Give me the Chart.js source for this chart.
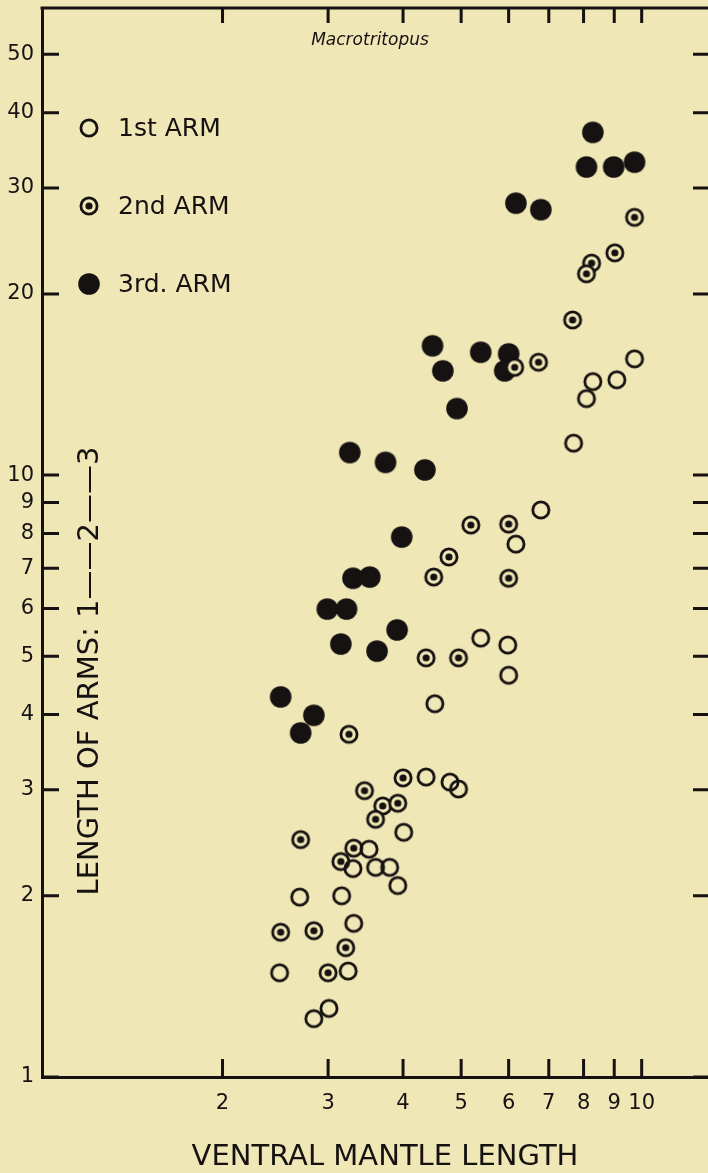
<!DOCTYPE html>
<html>
<head>
<meta charset="utf-8">
<script src="https://cdn.jsdelivr.net/npm/chart.js@4.4.1/dist/chart.umd.min.js"></script>
<style>
  html, body { margin: 0; padding: 0; background: #efe7b5; }
  canvas { display: block; }
</style>
</head>
<body>
<canvas id="chart" width="708" height="1173"></canvas>
<script>
"use strict";

// ventral mantle length (x) and arm length (y), one pair of arrays per arm
const arm1Mantle = [9.73, 9.09, 8.29, 8.09, 7.70, 6.79, 6.17, 5.39, 5.98, 6.00, 4.52, 4.37, 4.79, 4.95,
  4.01, 3.51, 3.30, 3.60, 3.80, 3.92, 2.69, 3.16, 3.31, 2.49, 3.24, 3.01, 2.84];
const arm1Length = [15.6, 14.4, 14.3, 13.4, 11.3, 8.75, 7.68, 5.36, 5.22, 4.65, 4.17, 3.15, 3.09, 3.01,
  2.55, 2.39, 2.22, 2.23, 2.23, 2.08, 1.99, 2.00, 1.80, 1.49, 1.50, 1.30, 1.25];

const arm2Mantle = [9.73, 9.02, 8.25, 8.09, 7.67, 6.73, 6.14, 5.19, 6.00, 4.77, 4.50, 6.00, 4.37, 4.95,
  3.25, 4.00, 3.45, 3.70, 3.92, 3.60, 2.70, 3.31, 3.15, 2.50, 2.84, 3.21, 3.00];
const arm2Length = [26.8, 23.4, 22.5, 21.6, 18.1, 15.4, 15.1, 8.26, 8.29, 7.31, 6.77, 6.74, 4.97, 4.97,
  3.71, 3.14, 2.99, 2.82, 2.85, 2.68, 2.48, 2.40, 2.28, 1.74, 1.75, 1.64, 1.49];

const arm3Mantle = [8.29, 8.09, 8.98, 9.73, 6.17, 6.79, 4.48, 5.39, 6.00, 5.91, 4.66, 4.92, 3.26, 3.74,
  4.35, 3.98, 3.30, 3.52, 2.99, 3.22, 3.91, 3.15, 3.62, 2.50, 2.84, 2.70];
const arm3Length = [37.1, 32.5, 32.5, 33.1, 28.3, 27.6, 16.4, 16.0, 15.9, 14.9, 14.9, 12.9, 10.9, 10.5,
  10.2, 7.89, 6.74, 6.77, 5.99, 5.99, 5.53, 5.24, 5.10, 4.28, 3.99, 3.73];

const seriesNames = ['1st ARM', '2nd ARM', '3rd. ARM'];
const xTickValues = [2, 3, 4, 5, 6, 7, 8, 9, 10];
const yTickValues = [1, 2, 3, 4, 5, 6, 7, 8, 9, 10, 20, 30, 40, 50];

const INK = '#161212';
const PAPER = '#efe7b5';
const FONT = 'DejaVu Sans';

function marker(kind) {
  const c = document.createElement('canvas');
  c.width = 24; c.height = 24;
  const g = c.getContext('2d');
  g.fillStyle = INK; g.strokeStyle = INK;
  g.beginPath();
  if (kind === 'filled') {
    g.arc(12, 12, 10.8, 0, Math.PI * 2);
    g.fill();
  } else {
    g.arc(12, 12, 8.1, 0, Math.PI * 2);
    if (kind === 'dot') { g.fillStyle = PAPER; g.fill(); }
    g.lineWidth = 2.8;
    g.stroke();
    if (kind === 'dot') {
      g.beginPath();
      g.fillStyle = INK;
      g.arc(12, 12, 3.6, 0, Math.PI * 2);
      g.fill();
    }
  }
  return c;
}
const markers = [marker('open'), marker('dot'), marker('filled')];

function pairs(xs, ys) {
  return xs.map(function (x, i) { return { x: x, y: ys[i] }; });
}

const frame = {
  id: 'frame',
  afterDraw(chart) {
    const ctx = chart.ctx;
    const a = chart.chartArea;
    const x = chart.scales.x, y = chart.scales.y;
    ctx.save();
    ctx.strokeStyle = INK;
    ctx.lineWidth = 3;
    ctx.beginPath();
    ctx.moveTo(a.left - 1.5, a.top);
    ctx.lineTo(a.right, a.top);
    yTickValues.forEach(function (v) {
      const py = y.getPixelForValue(v);
      ctx.moveTo(a.left, py); ctx.lineTo(a.left + 17, py);
      ctx.moveTo(a.right - 15, py); ctx.lineTo(a.right, py);
    });
    xTickValues.forEach(function (v) {
      const px = x.getPixelForValue(v);
      ctx.moveTo(px, a.bottom); ctx.lineTo(px, a.bottom - 18);
      ctx.moveTo(px, a.top); ctx.lineTo(px, a.top + 15);
    });
    ctx.stroke();

    ctx.fillStyle = INK;
    // species name
    ctx.font = 'italic 17px ' + FONT;
    ctx.textAlign = 'center';
    ctx.textBaseline = 'middle';
    ctx.fillText('Macrotritopus', 370, 41);

    // axis title under the x labels
    ctx.font = '29px ' + FONT;
    ctx.fillText('VENTRAL MANTLE LENGTH', 385, 1157);

    // legend
    ctx.font = '25px ' + FONT;
    ctx.textAlign = 'left';
    seriesNames.forEach(function (name, i) {
      const ly = 128 + i * 78;
      ctx.drawImage(markers[i], 89 - 12, ly - 12);
      ctx.fillText(name, 118, ly + 1);
    });

    // y axis title sits inside the frame
    ctx.translate(90, 671);
    ctx.rotate(-Math.PI / 2);
    ctx.font = '29px ' + FONT;
    ctx.textAlign = 'center';
    ctx.fillText('LENGTH OF ARMS: 1\u2014\u20142\u2014\u20143', 0, 0);
    ctx.restore();
  }
};

new Chart(document.getElementById('chart'), {
  type: 'scatter',
  data: {
    datasets: [
      { label: seriesNames[0], data: pairs(arm1Mantle, arm1Length), pointStyle: markers[0] },
      { label: seriesNames[1], data: pairs(arm2Mantle, arm2Length), pointStyle: markers[1] },
      { label: seriesNames[2], data: pairs(arm3Mantle, arm3Length), pointStyle: markers[2] }
    ]
  },
  options: {
    responsive: false,
    animation: false,
    layout: { autoPadding: false, padding: { top: 8, right: 0, bottom: 0, left: 0 } },
    elements: { point: { radius: 10, hoverRadius: 10 } },
    plugins: {
      legend: { display: false },
      tooltip: { enabled: false }
    },
    scales: {
      x: {
        type: 'logarithmic',
        position: 'bottom',
        min: 1,
        max: 12.9,
        bounds: 'data',
        afterBuildTicks: function (s) { s.ticks = xTickValues.map(function (v) { return { value: v }; }); },
        afterFit: function (s) { s.height = 96; s.paddingLeft = 0; s.paddingRight = 0; },
        grid: { display: false, drawTicks: false },
        border: { display: true, color: INK, width: 3 },
        ticks: {
          autoSkip: false, maxRotation: 0, padding: 14, color: INK,
          font: { family: FONT, size: 21 },
          callback: function (v) { return String(v); }
        }
      },
      y: {
        type: 'logarithmic',
        position: 'left',
        min: 1,
        max: 59.7,
        bounds: 'data',
        afterBuildTicks: function (s) { s.ticks = yTickValues.map(function (v) { return { value: v }; }); },
        afterFit: function (s) { s.width = 42; s.paddingTop = 0; s.paddingBottom = 0; },
        grid: { display: false, drawTicks: false },
        border: { display: true, color: INK, width: 3 },
        ticks: {
          autoSkip: false, padding: 8, color: INK,
          font: { family: FONT, size: 21 },
          callback: function (v) { return String(v); }
        }
      }
    }
  },
  plugins: [frame]
});
</script>
</body>
</html>
